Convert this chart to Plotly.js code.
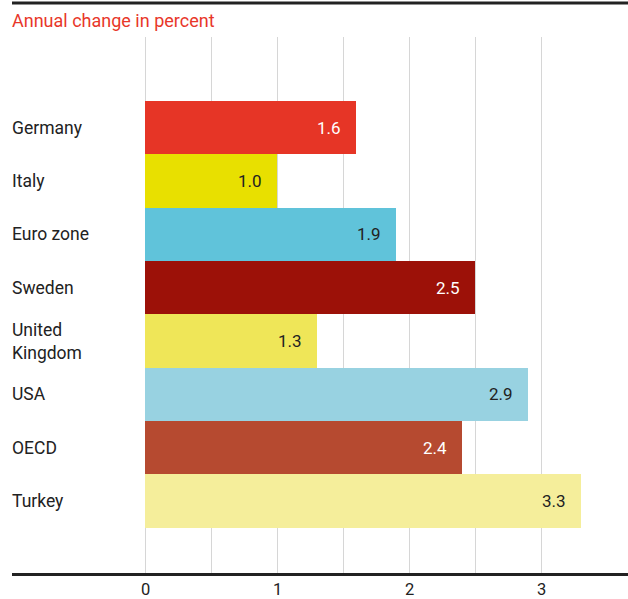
<!DOCTYPE html>
<html>
<head>
<meta charset="utf-8">
<script src="https://cdn.plot.ly/plotly-3.0.1.min.js"></script>
<style>
  html, body { margin: 0; padding: 0; background: #fff; }
  #chart { width: 628px; height: 599px; }
</style>
</head>
<body>
<div id="chart"></div>
<script>
// Annual change in percent, by country / region
const categories = ['Germany', 'Italy', 'Euro zone', 'Sweden', 'United Kingdom', 'USA', 'OECD', 'Turkey'];
const categoryLabels = ['Germany', 'Italy', 'Euro zone', 'Sweden', 'United<br>Kingdom', 'USA', 'OECD', 'Turkey'];
const values = [1.6, 1.0, 1.9, 2.5, 1.3, 2.9, 2.4, 3.3];
const barColors = ['#e63526', '#e8e000', '#60c3da', '#9c1108', '#efe658', '#98d2e1', '#b64a30', '#f5ee9b'];
const labelColors = ['#ffffff', '#222222', '#222222', '#ffffff', '#222222', '#222222', '#ffffff', '#222222'];
const gridValues = [0, 0.5, 1, 1.5, 2, 2.5, 3];
const tickValues = [0, 1, 2, 3];
const tickLabels = ['0', '1', '2', '3'];

const FONT = 'Roboto, "Open Sans", sans-serif';

const trace = {
  type: 'bar',
  orientation: 'h',
  y: categories,
  x: values,
  marker: { color: barColors, line: { width: 0 } },
  hoverinfo: 'skip'
};

// value labels just inside the end of each bar
const valueAnnotations = values.map((v, i) => ({
  x: v, y: categories[i], xref: 'x', yref: 'y',
  text: v.toFixed(1),
  showarrow: false,
  xanchor: 'right', yanchor: 'middle',
  xshift: -13,
  font: { family: FONT, size: 17, color: labelColors[i] }
}));

// category names, left aligned at the chart's left edge
const categoryAnnotations = categoryLabels.map((t, i) => ({
  x: 0, xref: 'paper', y: categories[i], yref: 'y',
  text: t,
  showarrow: false,
  align: 'left',
  xanchor: 'left', yanchor: 'middle',
  xshift: -2,
  font: { family: FONT, size: 17.5, color: '#222222' }
}));

const plotTop = 37, plotBottom = 573, plotH = plotBottom - plotTop;

// axis numbers under the baseline
const tickAnnotations = tickValues.map((v, i) => ({
  x: v, xref: 'x', y: 0, yref: 'paper',
  text: tickLabels[i],
  showarrow: false,
  xanchor: 'center', yanchor: 'middle',
  yshift: -16,
  font: { family: FONT, size: 16.5, color: '#222222' }
}));

const layout = {
  width: 628,
  height: 599,
  margin: { l: 12, r: 0, t: plotTop, b: 599 - plotBottom, pad: 0 },
  paper_bgcolor: '#ffffff',
  plot_bgcolor: '#ffffff',
  showlegend: false,
  bargap: 0,
  font: { family: FONT, color: '#222222' },
  xaxis: {
    range: [-133 / 132, 483 / 132],
    tickmode: 'array',
    tickvals: gridValues,
    showticklabels: false,
    showgrid: true,
    gridcolor: '#d6d6d6',
    gridwidth: 1,
    zeroline: false,
    showline: true,
    linecolor: '#222222',
    linewidth: 3,
    ticks: '',
    fixedrange: true
  },
  yaxis: {
    type: 'category',
    categoryorder: 'array',
    categoryarray: categories,
    range: [8.35, -1.7],
    showticklabels: false,
    showgrid: false,
    zeroline: false,
    showline: false,
    ticks: '',
    fixedrange: true
  },
  annotations: [
    {
      x: 0, xref: 'paper', y: 1 + (plotTop - 20) / plotH, yref: 'paper',
      text: 'Annual change in percent',
      showarrow: false, xanchor: 'left', yanchor: 'middle',
      xshift: -2,
      font: { family: FONT, size: 18, color: '#e8372a' }
    },
    ...categoryAnnotations,
    ...valueAnnotations,
    ...tickAnnotations
  ],
  shapes: [
    {
      type: 'line', xref: 'paper', yref: 'paper',
      x0: 0, x1: 1,
      y0: 1 + (plotTop - 3) / plotH, y1: 1 + (plotTop - 3) / plotH,
      line: { color: '#222222', width: 3 }
    }
  ]
};

Plotly.newPlot('chart', [trace], layout, { displayModeBar: false, staticPlot: true });
</script>
</body>
</html>
